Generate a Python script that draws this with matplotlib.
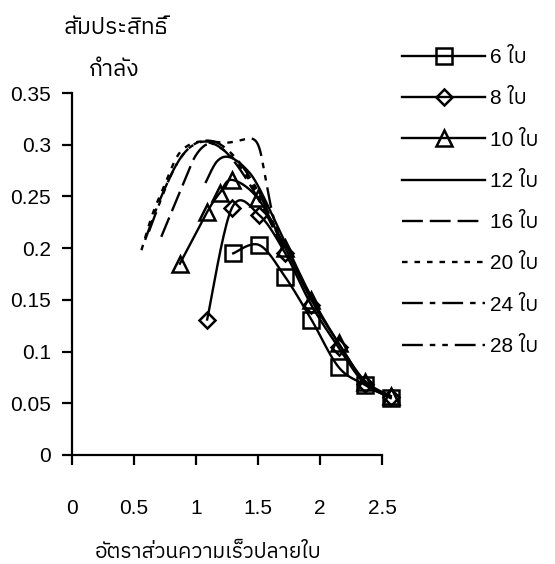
import numpy as np
import matplotlib
matplotlib.use("Agg")
import matplotlib.pyplot as plt
from matplotlib import font_manager

# ---------------- data ----------------
tsr6 = [1.30, 1.51, 1.72, 1.93, 2.15, 2.36, 2.57]
cp6 = [0.195, 0.203, 0.172, 0.131, 0.085, 0.068, 0.055]

tsr8 = [1.09, 1.29, 1.51, 1.72, 1.93, 2.15, 2.36, 2.57]
cp8 = [0.131, 0.239, 0.232, 0.195, 0.145, 0.104, 0.069, 0.056]

tsr10 = [0.87, 1.09, 1.19, 1.29, 1.50, 1.72, 1.93, 2.15, 2.36, 2.57]
cp10 = [0.185, 0.235, 0.253, 0.266, 0.248, 0.200, 0.150, 0.108, 0.071, 0.057]

tsr12 = [1.08, 1.17, 1.27, 1.40, 1.51, 1.72, 1.93, 2.15, 2.36, 2.57]
cp12 = [0.264, 0.284, 0.288, 0.277, 0.258, 0.205, 0.153, 0.108, 0.072, 0.057]

tsr16 = [0.72, 0.82, 0.91, 1.00, 1.10, 1.20, 1.30, 1.40, 1.50, 1.60, 1.70]
cp16 = [0.211, 0.240, 0.266, 0.290, 0.301, 0.297, 0.285, 0.268, 0.248, 0.225, 0.200]

tsr20 = [0.56, 0.65, 0.75, 0.84, 0.92, 1.03, 1.15, 1.30, 1.45, 1.60, 1.70]
cp20 = [0.198, 0.233, 0.262, 0.287, 0.298, 0.303, 0.300, 0.287, 0.262, 0.228, 0.202]

tsr24 = [0.59, 0.68, 0.78, 0.88, 0.98, 1.08, 1.20, 1.35, 1.50, 1.62, 1.70]
cp24 = [0.208, 0.238, 0.266, 0.288, 0.300, 0.304, 0.300, 0.283, 0.255, 0.225, 0.205]

tsr28 = [0.62, 0.72, 0.82, 0.92, 1.02, 1.12, 1.25, 1.35, 1.45, 1.51, 1.56, 1.62, 1.70]
cp28 = [0.216, 0.248, 0.276, 0.294, 0.302, 0.303, 0.302, 0.304, 0.306, 0.297, 0.268, 0.232, 0.205]

labels = ["6 ใบ", "8 ใบ", "10 ใบ", "12 ใบ", "16 ใบ", "20 ใบ", "24 ใบ", "28 ใบ"]
xticks = [0, 0.5, 1, 1.5, 2, 2.5]
xticklabels = ["0", "0.5", "1", "1.5", "2", "2.5"]
yticks = [0, 0.05, 0.1, 0.15, 0.2, 0.25, 0.3, 0.35]
yticklabels = ["0", "0.05", "0.1", "0.15", "0.2", "0.25", "0.3", "0.35"]
xlabel = "อัตราส่วนความเร็วปลายใบ"
ylabel1 = "สัมประสิทธิ์"
ylabel2 = "กำลัง"

# ---------------- font with Thai glyphs ----------------
thai_family = None
try:
    from fontTools.ttLib import TTFont
    cands = []
    for f in font_manager.fontManager.ttflist:
        try:
            tt = TTFont(f.fname, fontNumber=0, lazy=True)
            cmap = tt.getBestCmap()
            if cmap and 0x0E2A in cmap and 0x0E1A in cmap and 0x0E31 in cmap:
                cands.append(f.name)
        except Exception:
            pass
    pref = [c for c in cands if "Sans" in c and "Mono" not in c]
    if pref:
        thai_family = pref[0]
    elif cands:
        thai_family = cands[0]
except Exception:
    pass

fam = ["Liberation Sans"]
if thai_family:
    fam.append(thai_family)
fam.append("DejaVu Sans")
plt.rcParams["font.family"] = fam
plt.rcParams["lines.scale_dashes"] = False


def smooth(x, y, n=20):
    """Excel-like smoothed line (Catmull-Rom / Bezier) through the points."""
    x = np.asarray(x, float)
    y = np.asarray(y, float)
    P = np.column_stack([x, y])
    k = len(P)
    out = []
    for i in range(k - 1):
        p0 = P[i - 1] if i > 0 else P[i]
        p1 = P[i]
        p2 = P[i + 1]
        p3 = P[i + 2] if i + 2 < k else P[i + 1]
        c1 = p1 + (p2 - p0) / 6.0
        c2 = p2 - (p3 - p1) / 6.0
        t = np.linspace(0, 1, n, endpoint=(i == k - 2))[:, None]
        seg = ((1 - t) ** 3) * p1 + 3 * ((1 - t) ** 2) * t * c1 + 3 * (1 - t) * t ** 2 * c2 + t ** 3 * p2
        out.append(seg)
    out = np.vstack(out)
    return out[:, 0], out[:, 1]


W, H = 555, 564
fig = plt.figure(figsize=(W / 100, H / 100), dpi=100)
ax = fig.add_axes([72 / W, 1 - 455 / H, 310 / W, 362 / H])
ax.set_xlim(0, 2.5)
ax.set_ylim(0, 0.35)

lw = 1.7
mew = 1.8
series = [
    (tsr6, cp6, dict(marker="s", ms=11.5), "-"),
    (tsr8, cp8, dict(marker="D", ms=8.3), "-"),
    (tsr10, cp10, dict(marker="^", ms=12), "-"),
    (tsr12, cp12, None, "-"),
    (tsr16, cp16, None, (0, (15, 5))),
    (tsr20, cp20, None, (0, (4, 5))),
    (tsr24, cp24, None, (0, (15, 5, 4, 5))),
    (tsr28, cp28, None, (0, (15, 5, 4, 5, 4, 5))),
]

handles = []
for (xs, ys, mk, ls), lab in zip(series, labels):
    sx, sy = smooth(xs, ys)
    ax.plot(sx, sy, color="black", lw=lw, linestyle=ls, clip_on=False, zorder=3)
    if mk is not None:
        ax.plot(xs, ys, linestyle="none", marker=mk["marker"], ms=mk["ms"],
                mfc="none", mec="black", mew=mew, clip_on=False, zorder=4)
        h, = ax.plot([], [], color="black", lw=lw, linestyle=ls, marker=mk["marker"],
                     ms=mk["ms"], mfc="none", mec="black", mew=mew)
    else:
        h, = ax.plot([], [], color="black", lw=lw, linestyle=ls)
    handles.append(h)

for s in ["top", "right"]:
    ax.spines[s].set_visible(False)
for s in ["left", "bottom"]:
    ax.spines[s].set_linewidth(1.6)
    ax.spines[s].set_color("black")

ax.set_xticks(xticks)
ax.set_xticklabels(xticklabels)
ax.set_yticks(yticks)
ax.set_yticklabels(yticklabels)
ax.tick_params(direction="out", length=7, width=1.6, labelsize=15, colors="black")
ax.tick_params(axis="x", pad=25)
ax.tick_params(axis="y", pad=8)

leg = ax.legend(handles, labels, loc="upper left",
                bbox_to_anchor=(402 / W, 1 - 48 / H), bbox_transform=fig.transFigure,
                frameon=False, handlelength=4.0, handletextpad=0.2, labelspacing=1.07,
                borderpad=0, borderaxespad=0, fontsize=15, numpoints=1)

fig.text(208 / W, 1 - 558 / H, xlabel, ha="center", va="baseline", fontsize=15)
fig.text(116 / W, 1 - 34 / H, ylabel1, ha="center", va="baseline", fontsize=16.5)
fig.text(114 / W, 1 - 76 / H, ylabel2, ha="center", va="baseline", fontsize=16.5)

fig.savefig("out.png", dpi=100)
